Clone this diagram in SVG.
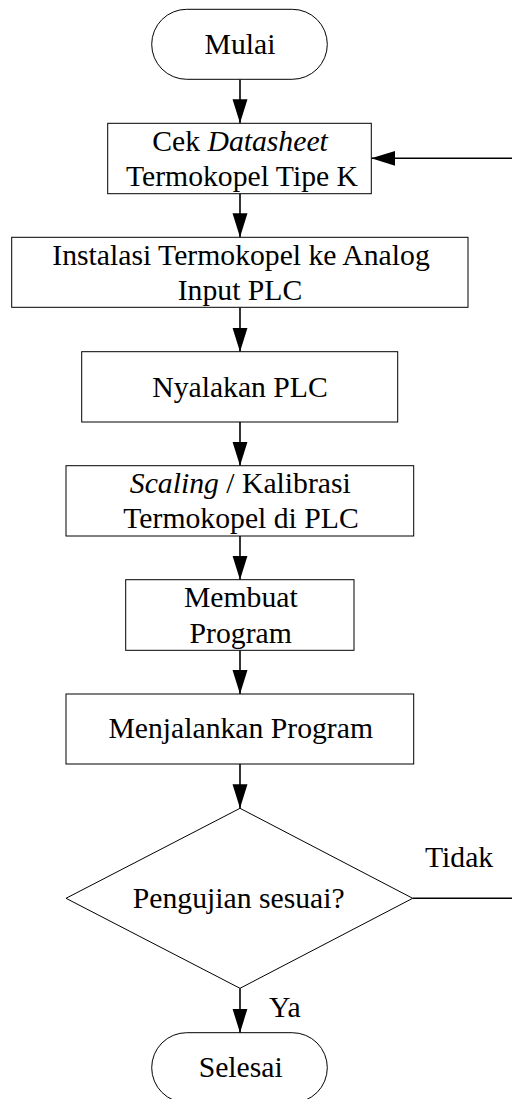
<svg xmlns="http://www.w3.org/2000/svg" width="512" height="1099" viewBox="0 0 512 1099">
<style>
.shape{fill:#fff;stroke:#000;stroke-width:1}
text{font-family:'Liberation Serif','Times New Roman',serif;font-size:29.7px;fill:#000}
.t{text-anchor:middle}
.c{fill:none;stroke:#000;stroke-width:1.6}
</style>
<defs>
<marker id="arr" markerUnits="userSpaceOnUse" markerWidth="24" markerHeight="16" refX="24" refY="7.5" orient="auto">
<path d="M0,0 L24,7.5 L0,15 z" fill="#000"/>
</marker>
</defs>
<rect width="512" height="1099" fill="#fff"/>
<g id="connectors">
<line class="c" x1="240" y1="79.5" x2="240" y2="123.3" marker-end="url(#arr)"/>
<line class="c" x1="240" y1="193.7" x2="240" y2="237.3" marker-end="url(#arr)"/>
<line class="c" x1="240" y1="307.3" x2="240" y2="351.7" marker-end="url(#arr)"/>
<line class="c" x1="240" y1="422" x2="240" y2="465.7" marker-end="url(#arr)"/>
<line class="c" x1="240" y1="536" x2="240" y2="579.7" marker-end="url(#arr)"/>
<line class="c" x1="240" y1="650.3" x2="240" y2="694" marker-end="url(#arr)"/>
<line class="c" x1="240" y1="764" x2="240" y2="808.3" marker-end="url(#arr)"/>
<line class="c" x1="240" y1="988.3" x2="240" y2="1032.7" marker-end="url(#arr)"/>
<path class="c" d="M412.7,898.3 H530 V158.3 H371.3" marker-end="url(#arr)"/>
<text x="425" y="867">Tidak</text>
<text x="269" y="1017">Ya</text>
</g>
<g id="mulai">
<rect class="shape" x="151.7" y="9.3" width="175.6" height="70" rx="35" ry="35"/>
<text class="t" x="240" y="54">Mulai</text>
</g>
<g id="cek">
<rect class="shape" x="107.7" y="123.3" width="263.6" height="70.4"/>
<text class="t" x="240" y="151">Cek <tspan font-style="italic">Datasheet</tspan></text>
<text class="t" x="242" y="186">Termokopel Tipe K</text>
</g>
<g id="instalasi">
<rect class="shape" x="11.7" y="237.3" width="456.3" height="70"/>
<text class="t" x="241" y="265">Instalasi Termokopel ke Analog</text>
<text class="t" x="240" y="300">Input PLC</text>
</g>
<g id="nyalakan">
<rect class="shape" x="81.7" y="351.7" width="316" height="70.3"/>
<text class="t" x="240" y="397">Nyalakan PLC</text>
</g>
<g id="scaling">
<rect class="shape" x="66" y="465.7" width="347.7" height="70.3"/>
<text class="t" x="240.3" y="493"><tspan font-style="italic">Scaling</tspan> / Kalibrasi</text>
<text class="t" x="241" y="528">Termokopel di PLC</text>
</g>
<g id="membuat">
<rect class="shape" x="125.7" y="579.7" width="228.3" height="70.6"/>
<text class="t" x="240.8" y="607">Membuat</text>
<text class="t" x="240.7" y="643">Program</text>
</g>
<g id="menjalankan">
<rect class="shape" x="66" y="694" width="347.7" height="70"/>
<text class="t" x="240.7" y="738">Menjalankan Program</text>
</g>
<g id="pengujian">
<polygon class="shape" points="240,808.3 412.7,898.3 240,988.3 66,898.3"/>
<text class="t" x="238.7" y="908">Pengujian sesuai?</text>
</g>
<g id="selesai">
<rect class="shape" x="151.7" y="1032.7" width="175.6" height="70" rx="35" ry="35"/>
<text class="t" x="240.7" y="1077">Selesai</text>
</g>
</svg>
